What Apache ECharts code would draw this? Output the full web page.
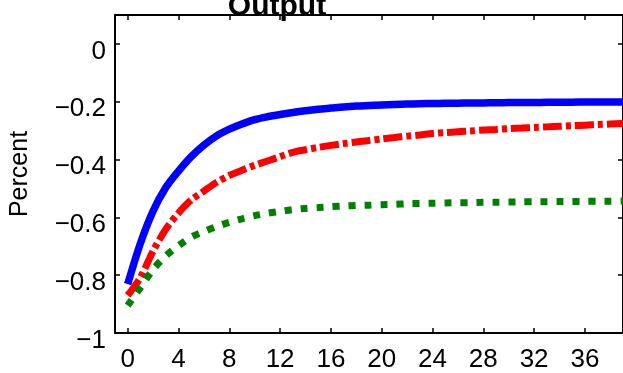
<!DOCTYPE html>
<html>
<head>
<meta charset="utf-8">
<script src="https://cdn.jsdelivr.net/npm/echarts@6/dist/echarts.min.js"></script>
<style>
	html, body { margin: 0; padding: 0; background: #fff; }
	#chartS { width: 623px; height: 373px; }
</style>
</head>
<body>
<div id="chartS"></div>
<script>
// ============================================== 数据 ======================================================
// quarters after the shock
var periods = [0, 1, 2, 3, 4, 5, 6, 7, 8, 9, 10, 11, 12, 13, 14, 15, 16, 17, 18, 19,
	20, 21, 22, 23, 24, 25, 26, 27, 28, 29, 30, 31, 32, 33, 34, 35, 36, 37, 38, 39];
// blue solid
var outputBlue = [-0.831, -0.690, -0.578, -0.497, -0.440, -0.390, -0.350, -0.318, -0.295, -0.277,
	-0.262, -0.252, -0.244, -0.237, -0.231, -0.226, -0.222, -0.218, -0.215, -0.213,
	-0.211, -0.2095, -0.208, -0.207, -0.206, -0.2055, -0.205, -0.2045, -0.204, -0.2035,
	-0.203, -0.2027, -0.2024, -0.2021, -0.2018, -0.2015, -0.2012, -0.201, -0.2008, -0.2006];
// red dash-dot
var outputRed = [-0.870, -0.808, -0.716, -0.641, -0.585, -0.540, -0.509, -0.479, -0.455, -0.437,
	-0.420, -0.405, -0.390, -0.375, -0.366, -0.358, -0.351, -0.345, -0.339, -0.334,
	-0.329, -0.324, -0.319, -0.315, -0.310, -0.307, -0.304, -0.301, -0.298, -0.296,
	-0.293, -0.291, -0.289, -0.287, -0.285, -0.283, -0.281, -0.279, -0.277, -0.275];
// green dotted
var outputGreen = [-0.905, -0.843, -0.780, -0.733, -0.698, -0.668, -0.649, -0.632, -0.617, -0.605,
	-0.594, -0.586, -0.579, -0.573, -0.569, -0.566, -0.563, -0.561, -0.559, -0.558,
	-0.556, -0.555, -0.553, -0.552, -0.551, -0.550, -0.5495, -0.549, -0.548, -0.5475,
	-0.547, -0.5465, -0.546, -0.5457, -0.5453, -0.545, -0.5447, -0.5443, -0.544, -0.5437];
// tick labels
var xTicks = [0, 4, 8, 12, 16, 20, 24, 28, 32, 36];
var yTicks = [-1, -0.8, -0.6, -0.4, -0.2, 0];

// ============================================== 函数 ======================================================
function pairs(xs, ys) {
	var out = [];
	for (var i = 0; i < xs.length; i++) {
		out.push([xs[i], ys[i]]);
	}
	return out;
}

function minusSign(v) {
	return String(v).replace('-', '\u2212');
}

function ticks(values) {
	return { show: true, inside: true, length: 5, customValues: values, lineStyle: { color: '#000', width: 1.5 } };
}

var FONT = '"Liberation Sans", Arial, sans-serif';

var axisLine = { show: true, onZero: false, lineStyle: { color: '#000', width: 2 } };

// ============================================== 图表 ======================================================
var myChart = echarts.init(document.getElementById('chartS'), null, { renderer: 'canvas' });
var option = {
	backgroundColor: '#fff',
	animation: false,
	title: {
		text: 'Output',
		left: 277,
		textAlign: 'center',
		top: -8,
		padding: 0,
		textStyle: { fontFamily: FONT, fontSize: 30, fontWeight: 'bold', color: '#000' }
	},
	grid: {
		left: 113,
		top: 15,
		width: 513,
		height: 319,
		containLabel: false
	},
	xAxis: [{
		type: 'value',
		position: 'bottom',
		min: -1,
		max: 39,
		axisLine: axisLine,
		axisTick: ticks(xTicks),
		axisLabel: {
			customValues: xTicks,
			margin: 14,
			fontFamily: FONT,
			fontSize: 26,
			color: '#000'
		},
		splitLine: { show: false }
	}, {
		type: 'value',
		position: 'top',
		min: -1,
		max: 39,
		axisLine: axisLine,
		axisTick: ticks(xTicks),
		axisLabel: { show: false },
		splitLine: { show: false }
	}],
	yAxis: [{
		type: 'value',
		position: 'left',
		min: -1,
		max: 0.1,
		name: 'Percent',
		nameLocation: 'middle',
		nameGap: 82,
		nameTextStyle: { fontFamily: FONT, fontSize: 25, color: '#000' },
		axisLine: axisLine,
		axisTick: ticks(yTicks),
		axisLabel: {
			customValues: yTicks,
			margin: 9,
			verticalAlign: 'top',
			lineHeight: 15,
			fontFamily: FONT,
			fontSize: 26,
			color: '#000',
			formatter: minusSign
		},
		splitLine: { show: false }
	}, {
		type: 'value',
		position: 'right',
		min: -1,
		max: 0.1,
		axisLine: axisLine,
		axisTick: ticks(yTicks),
		axisLabel: { show: false },
		splitLine: { show: false }
	}],
	series: [{
		type: 'line',
		data: pairs(periods, outputBlue),
		symbol: 'none',
		smooth: 0.3,
		lineStyle: { color: '#0000ff', width: 7.5, cap: 'butt', join: 'round' }
	}, {
		type: 'line',
		data: pairs(periods, outputRed),
		symbol: 'none',
		smooth: 0.3,
		lineStyle: { color: '#ff0000', width: 7, type: [19, 4, 5, 4], cap: 'butt' }
	}, {
		type: 'line',
		data: pairs(periods, outputGreen),
		symbol: 'none',
		smooth: 0.3,
		lineStyle: { color: '#008000', width: 7, type: [7, 9], cap: 'butt' }
	}]
};
myChart.setOption(option);
</script>
</body>
</html>
